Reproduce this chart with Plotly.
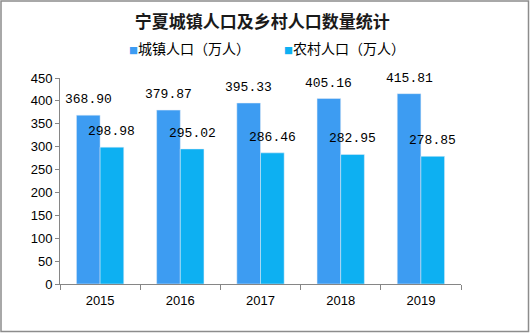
import plotly.graph_objects as go

years = ["2015", "2016", "2017", "2018", "2019"]
urban = [368.90, 379.87, 395.33, 405.16, 415.81]
rural = [298.98, 295.02, 286.46, 282.95, 278.85]
urban_name = "城镇人口（万人）"
rural_name = "农村人口（万人）"
title = "宁夏城镇人口及乡村人口数量统计"
urban_color = "#3d9cf2"
rural_color = "#0db0f2"

W, H = 530, 333
L, R, T, B = 60, 69, 78, 49
BARGAP = 0.41

label_font = dict(family="Liberation Mono, DejaVu Sans Mono, monospace", size=13, color="#000000")

fig = go.Figure()
fig.add_trace(go.Bar(x=years, y=urban, name=urban_name, marker_color=urban_color))
fig.add_trace(go.Bar(x=years, y=rural, name=rural_name, marker_color=rural_color))

pw, ph = W - L - R, H - T - B
bar_w = pw / len(years) * (1 - BARGAP) / 2

for vals, sign in [(urban, -1), (rural, 1)]:
    for i, v in enumerate(vals):
        fig.add_annotation(
            x=i, y=v, xref="x", yref="y", showarrow=False,
            text=f"{v:.2f}", xanchor="center", yanchor="bottom",
            xshift=sign * bar_w / 2, yshift=6, font=label_font,
        )

fig.update_layout(
    width=W, height=H,
    margin=dict(l=L, r=R, t=T, b=B),
    paper_bgcolor="white", plot_bgcolor="white",
    barmode="group", bargap=BARGAP, bargroupgap=0,
    title=dict(text=title, x=0.495, xanchor="center", y=1 - 22 / H, yanchor="middle",
               font=dict(family="Noto Sans CJK SC", size=17, color="#1a1a1a", weight="bold")),
    font=dict(family="Liberation Sans, Arial, sans-serif", size=13, color="#000000"),
    showlegend=False,
)

legend_y = 1 + (T - 48) / ph
for name, color, xpx in [(urban_name, urban_color, 127), (rural_name, rural_color, 282)]:
    fig.add_annotation(
        xref="paper", yref="paper", x=(xpx - L) / pw, y=legend_y,
        xanchor="left", yanchor="middle", showarrow=False,
        text=f"<span style='color:{color};font-size:9px'>■</span>{name}",
        font=dict(family="Noto Sans CJK SC", size=14, color="#000000"),
    )

fig.update_xaxes(
    type="category", range=[-0.5, len(years) - 0.5],
    showline=True, linecolor="#868686", linewidth=1,
    ticks="outside", tickson="boundaries", ticklen=5, tickcolor="#868686",
    ticklabelstandoff=4,
    showgrid=False, tickfont=dict(family="Liberation Sans, Arial, sans-serif", size=13),
)
fig.update_yaxes(
    range=[0, 450], dtick=50, showline=True, linecolor="#868686", linewidth=1,
    ticks="outside", ticklen=4, tickcolor="#868686", showgrid=False, zeroline=False,
    tickfont=dict(family="Liberation Sans, Arial, sans-serif", size=13),
)

fig.add_shape(type="rect", xref="paper", yref="paper",
              x0=-(L - 1) / pw, x1=1 + (R - 1.5) / pw,
              y0=-(B - 1.5) / ph, y1=1 + (T - 1) / ph,
              line=dict(color="#8c8c8c", width=1.5), fillcolor="rgba(0,0,0,0)", layer="above")

fig.write_html("out.html")
